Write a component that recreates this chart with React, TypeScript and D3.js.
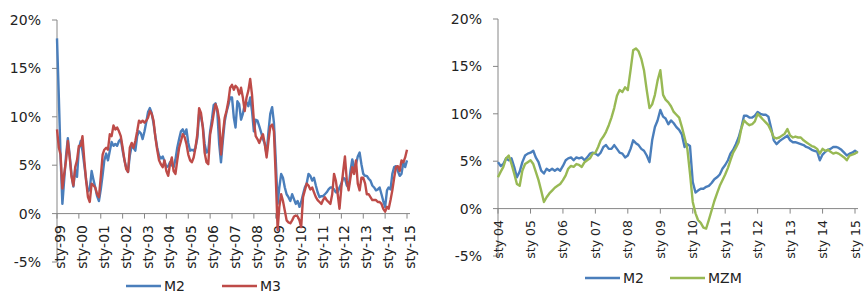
import React from 'react';
import * as d3 from 'd3';

// monthly, Jan 1999 .. Jan 2015
const leftM2 = [
  18.1, 12.0, 6.0, 1.0, 3.5, 6.0, 7.8, 6.0, 4.0, 2.8, 4.5, 3.8,
  6.7, 7.5, 6.5, 5.0, 3.5, 2.3, 2.5, 4.4, 3.5, 2.7, 1.8, 1.3,
  2.5, 4.0, 5.5, 6.2, 5.5, 6.5, 7.4, 7.0, 7.2, 7.0, 7.5, 7.7,
  6.5, 5.5, 4.8, 4.3, 6.0, 7.0, 6.8, 6.5, 8.0, 8.5, 8.3, 7.7,
  8.5, 9.5, 10.5, 10.9, 10.4, 9.3, 8.0, 6.8, 6.0, 5.7, 5.9, 5.4,
  4.8, 4.9, 5.3, 5.0, 4.8, 5.6, 6.8, 7.7, 8.5, 8.7, 8.2, 8.7,
  7.3, 6.5, 6.6, 6.5, 6.8, 7.8, 10.3, 10.0, 9.0, 7.2, 6.3, 6.5,
  8.5, 9.8, 11.2, 11.4, 10.5, 7.2, 5.3, 7.5, 9.5, 10.5, 11.2, 12.0,
  12.0, 9.9, 8.9, 11.6, 11.3, 9.7, 10.3, 11.3, 11.5, 11.1, 12.0, 10.6,
  8.5, 9.7, 9.6, 9.0, 8.4, 7.7, 7.2, 6.1, 8.5, 10.3, 11.0, 9.4,
  5.5, 1.0, 2.7, 4.1, 3.7, 2.7, 2.0, 1.7, 1.3, 2.0, 1.5, 1.0,
  1.3, 0.7, 1.2, 2.0, 2.7, 3.1, 4.1, 3.9, 3.4, 3.7, 2.9, 2.2,
  1.7, 1.8, 1.8, 2.0, 2.2, 2.5, 2.7, 2.7, 2.5, 2.2, 2.2, 2.7,
  3.1, 3.7, 3.6, 2.9, 2.7, 4.4, 5.6, 4.8, 5.1, 5.9, 6.3, 5.1,
  4.1, 3.9, 3.9, 3.6, 3.4, 2.9, 2.7, 2.4, 2.5, 2.7, 2.0, 1.3,
  0.7, 2.4, 2.7, 2.5, 4.1, 4.8, 4.9, 4.4, 3.9, 4.1, 5.3, 4.8,
  5.5,
];

const leftM3 = [
  8.7, 6.8, 6.1, 2.6, 4.1, 5.5, 7.5, 5.8, 3.8, 2.9, 4.8, 5.5,
  7.0, 7.0, 8.0, 5.5, 3.4, 1.7, 1.2, 3.1, 2.9, 2.7, 2.0, 1.7,
  3.8, 6.1, 6.6, 6.8, 6.6, 8.2, 8.0, 9.1, 8.7, 8.9, 8.5, 8.0,
  6.8, 5.5, 4.6, 4.3, 6.8, 7.3, 6.8, 7.5, 8.5, 9.6, 9.4, 9.6,
  9.4, 9.6, 9.9, 10.6, 10.3, 9.6, 7.9, 6.6, 5.5, 5.1, 4.8, 5.5,
  4.4, 3.9, 5.1, 5.8, 4.4, 4.1, 5.5, 6.8, 7.5, 8.2, 7.9, 7.2,
  6.1, 5.5, 5.3, 5.8, 6.8, 8.2, 10.9, 10.4, 8.9, 6.3, 5.3, 5.1,
  8.2, 9.2, 10.3, 11.3, 10.8, 9.7, 6.1, 8.2, 9.9, 10.6, 11.6, 13.0,
  13.3, 12.8, 13.2, 13.0, 12.3, 13.0, 12.0, 10.6, 12.0, 12.7, 13.9, 12.3,
  9.6, 8.0, 7.7, 7.3, 7.8, 8.2, 7.2, 5.8, 7.5, 9.0, 9.2, 8.5,
  3.7, -1.7, 0.7, 2.0, 1.3, 0.3, -0.7, -0.9, -1.0, -0.7, -0.3, -0.2,
  -0.3, -0.7, -1.4, 1.7, 2.4, 3.1, 2.9, 2.5, 2.7, 2.2, 1.7, 1.4,
  1.2, 1.0, 1.4, 1.7, 1.4, 1.2, 1.0, 2.0, 4.1, 3.4, 2.0, 0.5,
  2.7, 4.4, 5.9, 3.4, 2.4, 3.7, 4.8, 4.1, 5.5, 3.1, 2.4, 3.7,
  3.7, 3.1, 2.0, 2.0, 1.7, 1.4, 1.4, 1.4, 1.2, 1.2, 1.0, 0.5,
  0.2, 0.7, 0.5, 1.4, 2.4, 3.7, 4.8, 4.9, 4.4, 5.5, 5.3, 5.8,
  6.6,
];

// monthly, Jan 2004 .. Feb 2015
const rightM2 = [
  4.9, 4.5, 4.7, 5.3, 5.1, 5.3, 4.4, 3.3, 3.9, 4.9, 5.6, 5.8,
  5.9, 6.1, 5.4, 4.9, 4.0, 3.7, 4.2, 4.0, 4.2, 4.0, 4.2, 4.0,
  4.5, 5.1, 5.3, 5.4, 5.1, 5.4, 5.3, 5.4, 5.1, 5.4, 5.8, 5.9,
  5.8, 5.6, 5.9, 6.5, 6.7, 6.3, 6.3, 6.7, 6.3, 5.9, 5.8, 5.4,
  5.6, 6.3, 7.2, 6.9, 6.7, 6.3, 6.1, 5.6, 4.9, 7.2, 8.6, 9.3,
  10.4, 9.7, 9.5, 8.9, 9.3, 9.0, 8.6, 8.3, 7.8, 6.5, 6.8, 6.6,
  2.8, 1.7, 1.9, 2.1, 2.1, 2.3, 2.4, 2.7, 3.1, 3.3, 3.6, 4.2,
  4.6, 5.1, 5.8, 6.2, 6.8, 7.5, 8.5, 9.8, 9.8, 9.6, 9.6, 9.8,
  10.2, 10.0, 9.9, 9.9, 9.7, 8.5, 7.2, 6.8, 7.1, 7.3, 7.5, 7.7,
  7.2, 7.0, 7.0, 6.9, 6.8, 6.7, 6.5, 6.4, 6.2, 6.1, 6.0, 5.1,
  5.7, 6.0, 6.2, 6.3, 6.5, 6.5, 6.4, 6.2, 5.9, 5.6, 5.8, 5.9,
  6.1, 5.9,
];

const rightMZM = [
  3.3, 3.9, 4.4, 5.3, 5.6, 4.7, 3.7, 2.6, 2.4, 4.0, 4.7, 4.9,
  5.1, 4.7, 3.9, 3.0, 1.9, 0.7, 1.2, 1.6, 1.9, 2.2, 2.4, 2.6,
  3.0, 3.5, 4.2, 4.5, 4.4, 4.7, 4.6, 4.4, 4.9, 5.1, 5.3, 5.8,
  5.9, 6.5, 7.2, 7.6, 8.1, 8.8, 9.6, 10.6, 11.9, 12.5, 12.3, 12.8,
  12.5, 14.6, 16.7, 16.9, 16.6, 15.8, 14.6, 12.5, 10.6, 11.0, 12.0, 13.5,
  14.6, 12.0, 11.5, 11.2, 10.8, 10.2, 9.9, 9.6, 8.6, 7.5, 6.3, 3.7,
  0.7, -0.5, -1.2, -1.5, -2.0, -2.1, -1.2, -0.2, 0.8, 1.6, 2.4, 3.0,
  3.6, 4.3, 5.1, 5.9, 6.4, 7.0, 8.4, 9.3, 9.0, 8.8, 8.9, 9.2,
  10.0, 9.7, 9.4, 9.1, 8.8, 8.2, 7.5, 7.4, 7.5, 7.7, 7.9, 8.4,
  7.7, 7.5, 7.6, 7.5, 7.5, 7.2, 7.0, 6.8, 6.6, 6.5, 6.3, 5.8,
  6.3, 6.1, 6.2, 6.0, 5.8, 5.9, 5.8, 5.6, 5.4, 5.1, 5.6, 5.7,
  5.8, 6.0,
];

const yTicks = [-5, 0, 5, 10, 15, 20];
const leftTickLabels = ['sty-99', 'sty-00', 'sty-01', 'sty-02', 'sty-03', 'sty-04', 'sty-05', 'sty-06', 'sty-07', 'sty-08', 'sty-09', 'sty-10', 'sty-11', 'sty-12', 'sty-13', 'sty-14', 'sty-15'];
const rightTickLabels = ['sty 04', 'sty 05', 'sty 06', 'sty 07', 'sty 08', 'sty 09', 'sty 10', 'sty 11', 'sty 12', 'sty 13', 'sty 14', 'sty 15'];

const BLUE = '#4a7ebb';
const RED = '#be4b48';
const GREEN = '#98b954';
const AXIS = '#868686';
const FONT = '"DejaVu Sans", sans-serif';

type Series = { name: string; color: string; values: number[] };

type PanelProps = {
  startYear: number;
  tickLabels: string[];
  series: Series[];
  x0: number;
  x1: number;
  yTop: number;
  yBottom: number;
  labelTop: number;
  labelSize: number;
  labelShift: number;
  legendY: number;
  legendX: number[];
};

const Panel: React.FC<PanelProps> = (p) => {
  const endYear = p.startYear + p.tickLabels.length - 1;
  const x = d3
    .scaleTime()
    .domain([new Date(p.startYear, 0, 1), new Date(endYear, 0, 1)])
    .range([p.x0, p.x1]);
  const y = d3.scaleLinear().domain([-5, 20]).range([p.yBottom, p.yTop]);
  const line = d3
    .line<number>()
    .x((_, i) => x(new Date(p.startYear, i, 1)))
    .y((d) => y(d));
  const years = p.tickLabels.map((_, i) => new Date(p.startYear + i, 0, 1));

  return (
    <g>
      {/* y axis */}
      <line x1={p.x0} x2={p.x0} y1={y(20)} y2={y(-5)} stroke={AXIS} />
      {yTicks.map((t) => (
        <g key={t}>
          <line x1={p.x0 - 5} x2={p.x0} y1={y(t)} y2={y(t)} stroke={AXIS} />
          <text x={p.x0 - 16} y={y(t)} dy="0.36em" textAnchor="end" fontSize={14} fill="#222">
            {t}%
          </text>
        </g>
      ))}
      {/* x axis at zero */}
      <line x1={p.x0} x2={p.x1 + 3} y1={y(0)} y2={y(0)} stroke={AXIS} />
      {years.map((d, i) => (
        <g key={i}>
          <line x1={x(d)} x2={x(d)} y1={y(0)} y2={y(0) + 5} stroke={AXIS} />
          <text
            transform={`translate(${x(d) + p.labelShift},${p.labelTop}) rotate(-90)`}
            dy="0.36em"
            textAnchor="end"
            fontSize={p.labelSize}
            fill="#222"
          >
            {p.tickLabels[i]}
          </text>
        </g>
      ))}
      {p.series.map((s) => (
        <path key={s.name} d={line(s.values) ?? ''} fill="none" stroke={s.color} strokeWidth={2.4} strokeLinejoin="round" />
      ))}
      {p.series.map((s, i) => (
        <g key={s.name}>
          <line x1={p.legendX[i]} x2={p.legendX[i] + 35} y1={p.legendY} y2={p.legendY} stroke={s.color} strokeWidth={2.4} />
          <text x={p.legendX[i] + 38} y={p.legendY} dy="0.36em" fontSize={14} fill="#222">
            {s.name}
          </text>
        </g>
      ))}
    </g>
  );
};

export default function App() {
  return (
    <svg
      width={865}
      height={294}
      style={{ position: 'absolute', left: 0, top: 0, background: '#fff', fontFamily: FONT }}
    >
      <Panel
        startYear={1999}
        tickLabels={leftTickLabels}
        series={[
          { name: 'M2', color: BLUE, values: leftM2 },
          { name: 'M3', color: RED, values: leftM3 },
        ]}
        x0={57}
        x1={407}
        yTop={20}
        yBottom={262}
        labelTop={225}
        labelSize={14}
        labelShift={3}
        legendY={286}
        legendX={[126, 222]}
      />
      <Panel
        startYear={2004}
        tickLabels={rightTickLabels}
        series={[
          { name: 'M2', color: BLUE, values: rightM2 },
          { name: 'MZM', color: GREEN, values: rightMZM },
        ]}
        x0={498}
        x1={855}
        yTop={19}
        yBottom={256}
        labelTop={220}
        labelSize={12.5}
        labelShift={0}
        legendY={278}
        legendX={[585, 670]}
      />
    </svg>
  );
}
